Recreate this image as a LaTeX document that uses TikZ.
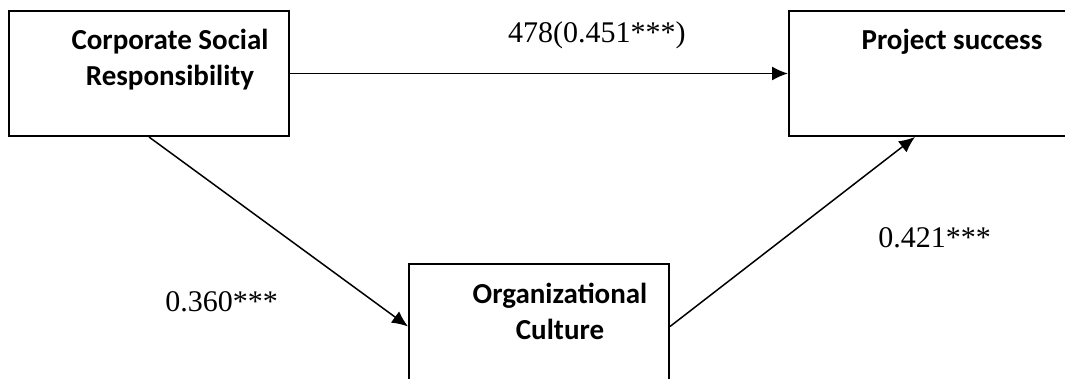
\documentclass[tikz,border=0pt]{standalone}
\usepackage{fontspec}
\setmainfont{Carlito}
\newfontfamily\numfont{Liberation Serif}
\usetikzlibrary{arrows.meta,positioning}

\begin{document}
\begin{tikzpicture}[x=1pt,y=-1pt,
    box/.style={draw, line width=2pt, minimum width=280pt, minimum height=125pt, inner sep=0pt},
    boxtext/.style={font=\fontsize{29}{36}\selectfont\bfseries, align=center},
    coef/.style={font=\numfont\fontsize{30}{36}\selectfont, inner sep=0pt},
    link/.style={line width=1.5pt, -{Latex[length=16pt,width=14pt]}}]
        \clip (0,0) rectangle (1065,379);

        % constructs
        \node[box, label={[boxtext, xshift=21pt, yshift=13.5pt]center:Corporate Social\\Responsibility}] (csr) at (149,73.5) {};
        \node[box, label={[boxtext, xshift=23pt, yshift=31.5pt]center:Project success}] (ps) at (929,73.5) {};
        \node[box, minimum width=260pt, label={[boxtext, xshift=21pt, yshift=15pt]center:Organizational\\Culture}] (oc) at (539,326.5) {};

        % paths
        \draw[link] (csr) -- node[coef, pos=0.616, yshift=38pt] {478(0.451***)} (ps);
        \draw[link] (csr.south) -- node[coef, pos=0.5, xshift=-57pt, yshift=-70pt] {0.360***} (oc.west);
        \draw[link] (oc.east) -- node[coef, pos=0.5, xshift=142pt, yshift=-6pt] {0.421***} ([xshift=-14pt]ps.south);
\end{tikzpicture}
\end{document}
